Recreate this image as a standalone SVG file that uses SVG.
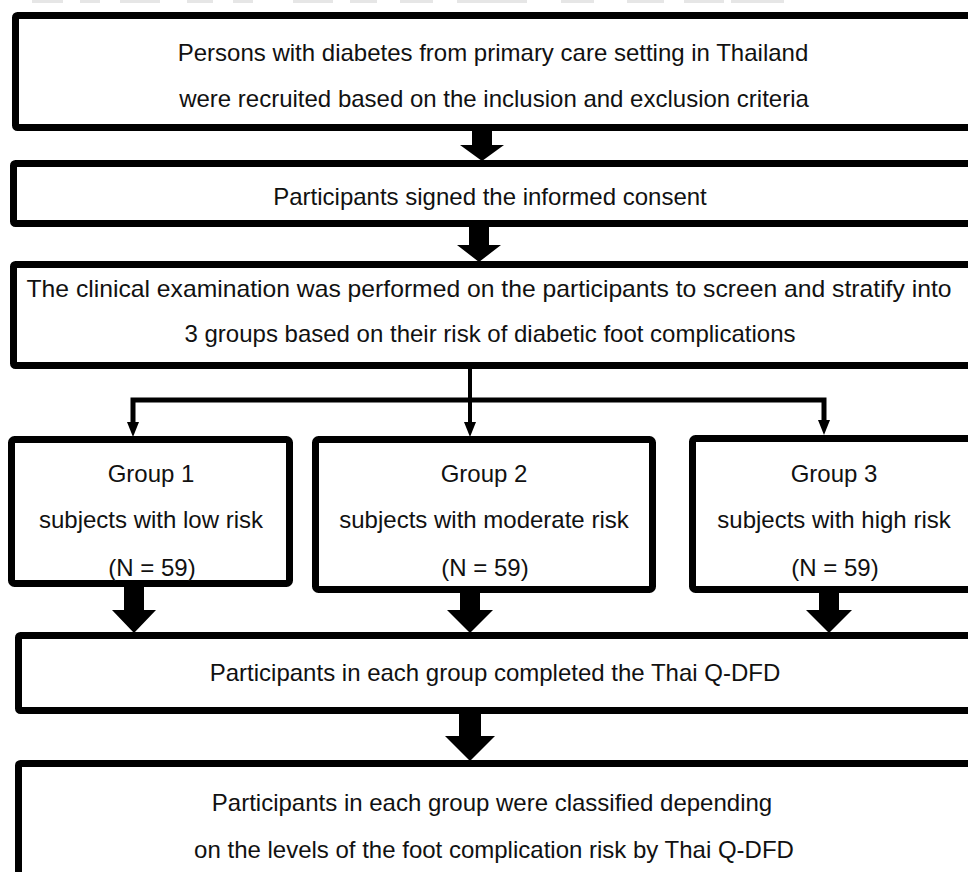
<svg xmlns="http://www.w3.org/2000/svg" width="968" height="872" viewBox="0 0 968 872">
<style>
.box{fill:#fff;stroke:#000;stroke-width:7}
.t{font-family:"Liberation Sans",Arial,sans-serif;font-size:24px;fill:#111;text-anchor:middle}
.g{font-family:"Liberation Sans",Arial,sans-serif;font-size:24px;fill:#111;text-anchor:middle}
.blk{fill:#000}
.ln{stroke:#000;fill:none}
.ghost{fill:#e6e6e6}
</style>
<rect width="968" height="872" fill="#fff"/>
<g id="topstrip">
<rect class="ghost" x="32" y="0" width="31" height="3"/>
<rect class="ghost" x="80" y="0" width="20" height="3"/>
<rect class="ghost" x="120" y="0" width="40" height="3"/>
<rect class="ghost" x="187" y="0" width="26" height="3"/>
<rect class="ghost" x="233" y="0" width="20" height="3"/>
<rect class="ghost" x="293" y="0" width="40" height="3"/>
<rect class="ghost" x="350" y="0" width="27" height="3"/>
<rect class="ghost" x="400" y="0" width="33" height="3"/>
<rect class="ghost" x="457" y="0" width="70" height="3"/>
<rect class="ghost" x="561" y="0" width="33" height="3"/>
<rect class="ghost" x="627" y="0" width="37" height="3"/>
<rect class="ghost" x="684" y="0" width="40" height="3"/>
<rect class="ghost" x="731" y="0" width="53" height="3"/>
</g>
<g id="connectors">
<path class="blk" d="M472 130 H492 V145 H504 L482 161 L460 145 H472 Z"/>
<path class="blk" d="M469 226 H489 V245 H501 L479 262 L457 245 H469 Z"/>
<path class="ln" stroke-width="4" d="M470 368 V424"/>
<path class="ln" stroke-width="5" d="M133 424 V400 H824 V422"/>
<polygon class="blk" points="127,422 139,422 133,437"/>
<polygon class="blk" points="464,422 476,422 470,437"/>
<polygon class="blk" points="818,420 830,420 824,435"/>
<path class="blk" d="M124 586 H144 V610 H156 L134 633 L112 610 H124 Z"/>
<path class="blk" d="M460 592 H480 V610 H493 L470 633 L447 610 H460 Z"/>
<path class="blk" d="M819 592 H839 V610 H852 L829 633 L806 610 H819 Z"/>
<path class="blk" d="M459 712 H481 V736 H495 L470 761 L445 736 H459 Z"/>
</g>
<g id="n1">
<rect class="box" x="15.5" y="15.5" width="970" height="112" rx="2"/>
<text class="t" x="493" y="61">Persons with diabetes from primary care setting in Thailand</text>
<text class="t" x="494" y="107">were recruited based on the inclusion and exclusion criteria</text>
</g>
<g id="n2">
<rect class="box" x="13.5" y="163.5" width="970" height="60" rx="2"/>
<text class="t" x="490" y="205">Participants signed the informed consent</text>
</g>
<g id="n3">
<rect class="box" x="13.5" y="264.5" width="970" height="101" rx="2"/>
<text class="t" x="489" y="297" textLength="925" lengthAdjust="spacingAndGlyphs">The clinical examination was performed on the participants to screen and stratify into</text>
<text class="t" x="490" y="342">3 groups based on their risk of diabetic foot complications</text>
</g>
<g id="g1">
<rect class="box" x="11.5" y="439.5" width="278" height="144" rx="3"/>
<text class="g" x="151" y="481.5">Group 1</text>
<text class="g" x="151" y="528">subjects with low risk</text>
<text class="g" x="152" y="575.5">(N = 59)</text>
</g>
<g id="g2">
<rect class="box" x="315.5" y="439.5" width="337" height="150" rx="3"/>
<text class="g" x="484" y="481.5">Group 2</text>
<text class="g" x="484" y="528">subjects with moderate risk</text>
<text class="g" x="485" y="575.5">(N = 59)</text>
</g>
<g id="g3">
<rect class="box" x="692.5" y="438.5" width="300" height="151" rx="3"/>
<text class="g" x="834" y="481.5">Group 3</text>
<text class="g" x="834" y="528">subjects with high risk</text>
<text class="g" x="835" y="575.5">(N = 59)</text>
</g>
<g id="n4">
<rect class="box" x="18.5" y="635.5" width="970" height="75" rx="2"/>
<text class="t" x="495" y="681">Participants in each group completed the Thai Q-DFD</text>
</g>
<g id="n5">
<rect class="box" x="18.5" y="763.5" width="970" height="200" rx="2"/>
<text class="t" x="492" y="811">Participants in each group were classified depending</text>
<text class="t" x="494" y="858">on the levels of the foot complication risk by Thai Q-DFD</text>
</g>
</svg>
